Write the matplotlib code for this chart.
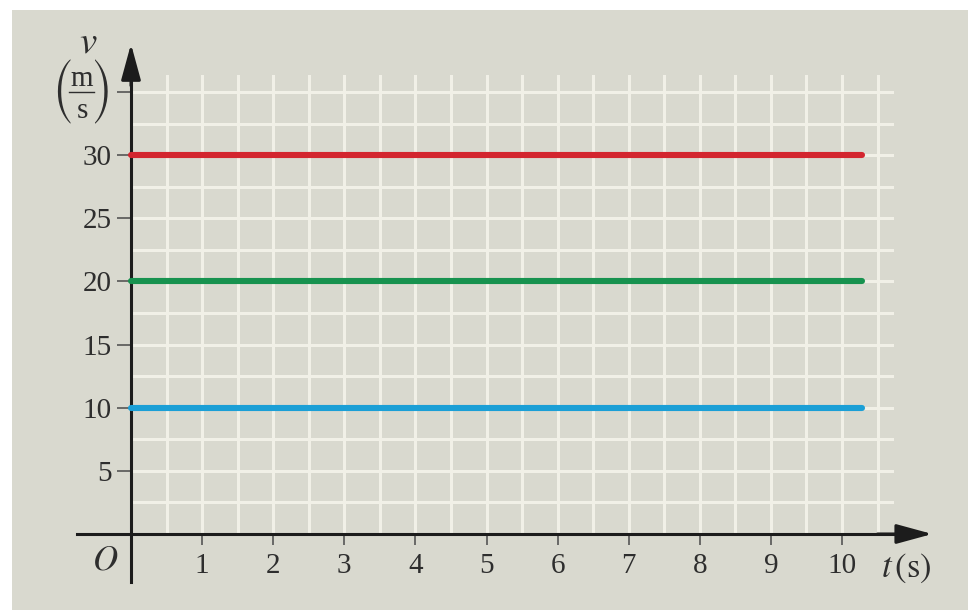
import matplotlib
matplotlib.use("Agg")
import matplotlib.pyplot as plt
from matplotlib.patches import Rectangle

# datos: velocidad constante de tres móviles
tiempo = [0, 10.28]
velocidades = [30, 20, 10]
colores = ["#d3262f", "#17924f", "#1b9fd6"]

yticks = [5, 10, 15, 20, 25, 30, 35]
ytick_labels = ["5", "10", "15", "20", "25", "30", ""]
xticks = [1, 2, 3, 4, 5, 6, 7, 8, 9, 10]
xtick_labels = [str(t) for t in xticks]

plt.rcParams["font.family"] = "Liberation Serif"
plt.rcParams["mathtext.fontset"] = "stix"

BG = "#d9d9cf"
GRID = "#f1f0e7"
AX = "#1c1c1c"
TXT = "#2e2e2e"

fig = plt.figure(figsize=(9.68, 6.10), dpi=100)
fig.patch.set_facecolor("white")

ax = fig.add_axes([0, 0, 1, 1])
ax.patch.set_alpha(0)
ax.add_patch(Rectangle((12 / 968, 0), 1, 600 / 610, transform=ax.transAxes,
                       facecolor=BG, edgecolor="none", zorder=0))
ax.set_xlim(-131 / 71.1, (968 - 131) / 71.1)
ax.set_ylim(-(610 - 534) / 12.63, 534 / 12.63)

# cuadrícula
for i in range(1, 22):
    ax.plot([i * 0.5, i * 0.5], [0, 36.3], color=GRID, lw=2.2, zorder=1)
for j in range(1, 15):
    ax.plot([0, 10.7], [j * 2.5, j * 2.5], color=GRID, lw=2.2, zorder=1)

# ejes
for s in ["top", "right"]:
    ax.spines[s].set_visible(False)
ax.spines["left"].set_position(("data", 0))
ax.spines["bottom"].set_position(("data", 0))
ax.spines["left"].set_bounds(-3.8, 37.0)
ax.spines["bottom"].set_bounds(-0.76, 10.9)
for s in ["left", "bottom"]:
    ax.spines[s].set_linewidth(2.2)
    ax.spines[s].set_color(AX)
    ax.spines[s].set_zorder(3)
flecha = dict(arrowstyle="-|>,head_length=1.1,head_width=0.3", mutation_scale=20,
              color=AX, lw=2.2, shrinkA=0, shrinkB=0)
ax.annotate("", xy=(0, 38.8), xytext=(0, 35.5), arrowprops=flecha, zorder=4,
            annotation_clip=False)
ax.annotate("", xy=(11.27, 0), xytext=(10.5, 0), arrowprops=flecha, zorder=4,
            annotation_clip=False)

ax.set_yticks(yticks)
ax.set_yticklabels(ytick_labels)
ax.set_xticks(xticks)
ax.set_xticklabels(xtick_labels)
ax.tick_params(axis="y", direction="out", length=10, width=1.2, color="#555555",
               labelsize=21, labelcolor=TXT, pad=4)
ax.tick_params(axis="x", direction="out", length=8, width=1.2, color="#555555",
               labelsize=21, labelcolor=TXT, pad=6)

# rectas v = cte
for v, c in zip(velocidades, colores):
    ax.plot(tiempo, [v, v], color=c, lw=4.4, solid_capstyle="round", zorder=5)

# rótulos
ax.text(-0.6, 38.9, r"$v$", fontsize=28, ha="center", va="center", color=TXT)
# unidad (m/s) entre paréntesis, montada a mano
ax.text(-0.69, 36.0, "m", fontsize=21, ha="center", va="center", color=TXT)
ax.text(-0.69, 33.5, "s", fontsize=21, ha="center", va="center", color=TXT)
ax.plot([-0.87, -0.52], [35.0, 35.0], color=TXT, lw=1.0, zorder=4)
ax.text(-0.97, 35.0, "(", family="STIXSizeTwoSym", fontsize=25, ha="center",
        va="center", color=TXT)
ax.text(-0.41, 35.0, ")", family="STIXSizeTwoSym", fontsize=25, ha="center",
        va="center", color=TXT)
ax.text(-0.37, -2.1, r"$O$", fontsize=25, ha="center", va="center", color=TXT)
ax.text(10.55, -2.75, r"$t\,(\mathrm{s})$", fontsize=25, ha="left", va="center", color=TXT)

fig.savefig("out.png", dpi=100)
